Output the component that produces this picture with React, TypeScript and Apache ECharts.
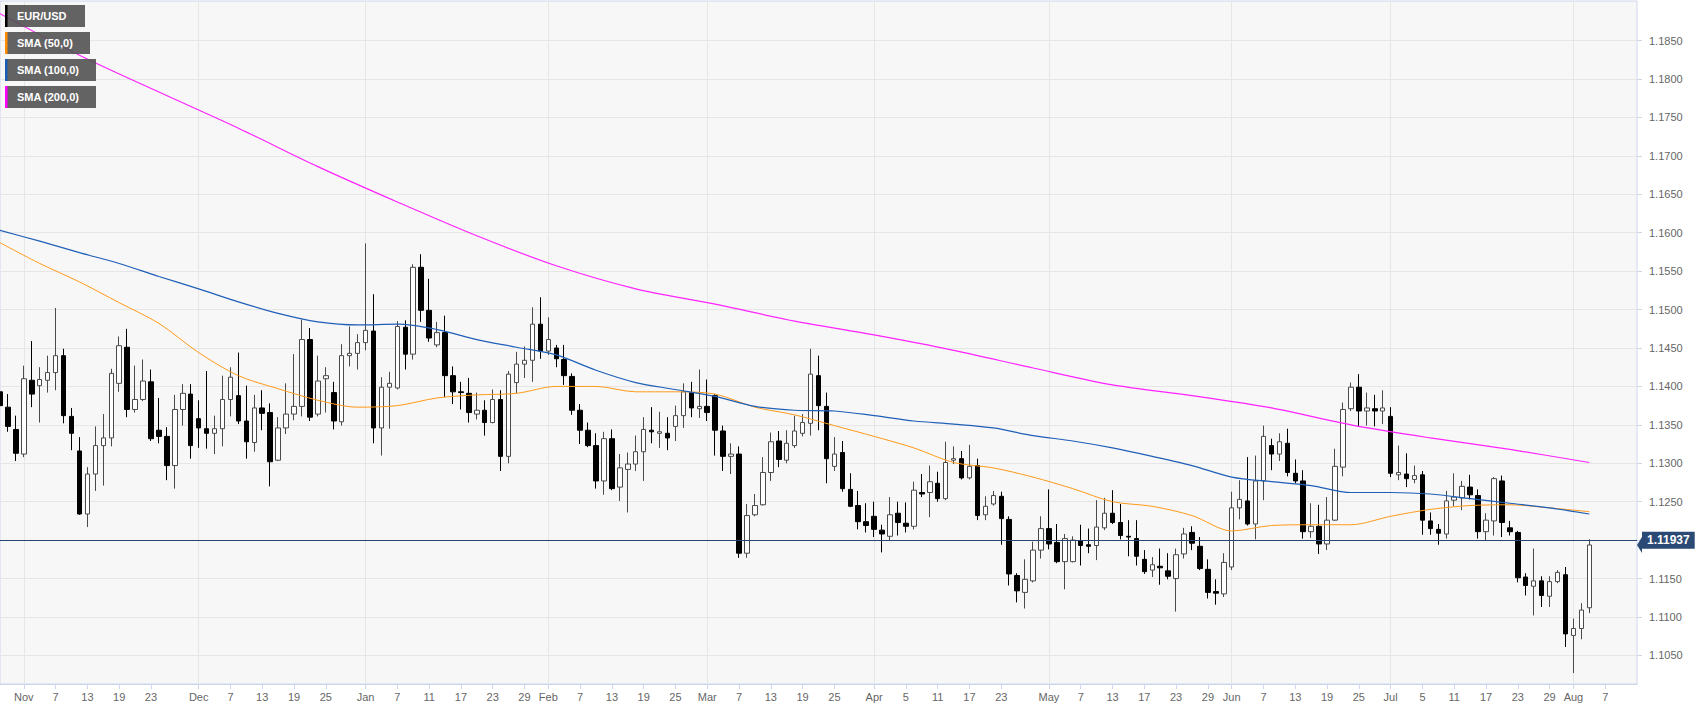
import React, { useEffect, useRef } from "react";
import * as echarts from "echarts";

// ---------- axis setup ----------
const START_DATE = "2018-10-29";
const CATEGORY_COUNT = 207; // weekdays from Oct 29 2018 to Aug 13 2019

const xTickLabels: [string, string][] = [
  ["2018-11-01", "Nov"], ["2018-11-07", "7"], ["2018-11-13", "13"], ["2018-11-19", "19"], ["2018-11-23", "23"],
  ["2018-12-03", "Dec"], ["2018-12-07", "7"], ["2018-12-13", "13"], ["2018-12-19", "19"], ["2018-12-25", "25"],
  ["2019-01-01", "Jan"], ["2019-01-07", "7"], ["2019-01-11", "11"], ["2019-01-17", "17"], ["2019-01-23", "23"], ["2019-01-29", "29"],
  ["2019-02-01", "Feb"], ["2019-02-07", "7"], ["2019-02-13", "13"], ["2019-02-19", "19"], ["2019-02-25", "25"],
  ["2019-03-01", "Mar"], ["2019-03-07", "7"], ["2019-03-13", "13"], ["2019-03-19", "19"], ["2019-03-25", "25"],
  ["2019-04-01", "Apr"], ["2019-04-05", "5"], ["2019-04-11", "11"], ["2019-04-17", "17"], ["2019-04-23", "23"],
  ["2019-05-01", "May"], ["2019-05-07", "7"], ["2019-05-13", "13"], ["2019-05-17", "17"], ["2019-05-23", "23"], ["2019-05-29", "29"],
  ["2019-06-03", "Jun"], ["2019-06-07", "7"], ["2019-06-13", "13"], ["2019-06-19", "19"], ["2019-06-25", "25"],
  ["2019-07-01", "Jul"], ["2019-07-05", "5"], ["2019-07-11", "11"], ["2019-07-17", "17"], ["2019-07-23", "23"], ["2019-07-29", "29"],
  ["2019-08-01", "Aug"], ["2019-08-07", "7"],
];

const yTicks = [1.105, 1.11, 1.115, 1.12, 1.125, 1.13, 1.135, 1.14, 1.145, 1.15, 1.155, 1.16, 1.165, 1.17, 1.175, 1.18, 1.185];
const Y_MIN = 1.10128;
const Y_MAX = 1.19015;
const LAST_PRICE = 1.11937;

// ---------- data: daily EUR/USD [open, close, low, high], one per weekday from Oct 29 2018 ----------
const candles: number[][] = [
  [1.1393, 1.1375, 1.1361, 1.1417], [1.1373, 1.1348, 1.1341, 1.1390], [1.1344, 1.1313, 1.1303, 1.1362], [1.1312, 1.1410, 1.1308, 1.1427],
  [1.1408, 1.1390, 1.1373, 1.1459], [1.1401, 1.1409, 1.1353, 1.1425], [1.1408, 1.1418, 1.1392, 1.1440], [1.1418, 1.1440, 1.1395, 1.1502],
  [1.1440, 1.1362, 1.1352, 1.1449], [1.1361, 1.1339, 1.1317, 1.1372], [1.1316, 1.1234, 1.1233, 1.1334], [1.1234, 1.1286, 1.1217, 1.1295],
  [1.1286, 1.1323, 1.1264, 1.1348], [1.1323, 1.1333, 1.1271, 1.1364], [1.1333, 1.1417, 1.1322, 1.1423], [1.1404, 1.1453, 1.1393, 1.1465],
  [1.1451, 1.1370, 1.1360, 1.1475], [1.1370, 1.1383, 1.1366, 1.1427], [1.1383, 1.1407, 1.1381, 1.1435], [1.1406, 1.1332, 1.1329, 1.1422],
  [1.1343, 1.1335, 1.1326, 1.1385], [1.1335, 1.1297, 1.1278, 1.1347], [1.1297, 1.1370, 1.1267, 1.1389], [1.1370, 1.1391, 1.1349, 1.1403],
  [1.1390, 1.1323, 1.1306, 1.1403], [1.1358, 1.1346, 1.1320, 1.1382], [1.1345, 1.1339, 1.1319, 1.1420], [1.1339, 1.1345, 1.1312, 1.1362],
  [1.1345, 1.1383, 1.1322, 1.1414], [1.1383, 1.1412, 1.1361, 1.1425], [1.1388, 1.1355, 1.1351, 1.1444], [1.1355, 1.1328, 1.1306, 1.1401],
  [1.1327, 1.1372, 1.1315, 1.1389], [1.1372, 1.1365, 1.1343, 1.1395], [1.1366, 1.1302, 1.1270, 1.1378], [1.1304, 1.1346, 1.1303, 1.1360],
  [1.1346, 1.1364, 1.1338, 1.1404], [1.1364, 1.1374, 1.1356, 1.1442], [1.1374, 1.1461, 1.1361, 1.1487], [1.1461, 1.1360, 1.1355, 1.1476],
  [1.1364, 1.1407, 1.1361, 1.1440], [1.1410, 1.1414, 1.1366, 1.1425], [1.1392, 1.1355, 1.1344, 1.1406], [1.1354, 1.1440, 1.1349, 1.1455],
  [1.1440, 1.1443, 1.1426, 1.1478], [1.1443, 1.1457, 1.1422, 1.1468], [1.1457, 1.1473, 1.1447, 1.1586], [1.1472, 1.1346, 1.1326, 1.1520],
  [1.1346, 1.1399, 1.1310, 1.1412], [1.1399, 1.1404, 1.1345, 1.1419], [1.1398, 1.1478, 1.1396, 1.1485], [1.1477, 1.1442, 1.1422, 1.1486],
  [1.1442, 1.1555, 1.1435, 1.1559], [1.1555, 1.1499, 1.1484, 1.1572], [1.1499, 1.1463, 1.1458, 1.1540], [1.1454, 1.1470, 1.1451, 1.1484],
  [1.1470, 1.1414, 1.1386, 1.1492], [1.1414, 1.1393, 1.1377, 1.1426], [1.1393, 1.1392, 1.1370, 1.1406], [1.1391, 1.1366, 1.1353, 1.1411],
  [1.1364, 1.1369, 1.1357, 1.1392], [1.1369, 1.1353, 1.1336, 1.1382], [1.1353, 1.1383, 1.1352, 1.1396], [1.1383, 1.1309, 1.1290, 1.1395],
  [1.1309, 1.1416, 1.1300, 1.1420], [1.1405, 1.1429, 1.1391, 1.1445], [1.1429, 1.1434, 1.1411, 1.1452], [1.1434, 1.1481, 1.1406, 1.1503],
  [1.1481, 1.1446, 1.1436, 1.1516], [1.1446, 1.1461, 1.1441, 1.1490], [1.1450, 1.1436, 1.1425, 1.1454], [1.1435, 1.1414, 1.1402, 1.1454],
  [1.1413, 1.1369, 1.1363, 1.1417], [1.1369, 1.1343, 1.1325, 1.1377], [1.1343, 1.1323, 1.1321, 1.1353], [1.1323, 1.1277, 1.1267, 1.1339],
  [1.1277, 1.1332, 1.1259, 1.1341], [1.1332, 1.1267, 1.1265, 1.1344], [1.1269, 1.1294, 1.1251, 1.1312], [1.1292, 1.1299, 1.1236, 1.1314],
  [1.1299, 1.1315, 1.1290, 1.1336], [1.1315, 1.1344, 1.1277, 1.1360], [1.1343, 1.1341, 1.1326, 1.1373], [1.1339, 1.1341, 1.1320, 1.1367],
  [1.1339, 1.1333, 1.1317, 1.1360], [1.1348, 1.1362, 1.1329, 1.1375], [1.1362, 1.1393, 1.1346, 1.1404], [1.1392, 1.1372, 1.1360, 1.1406],
  [1.1371, 1.1374, 1.1359, 1.1422], [1.1374, 1.1366, 1.1355, 1.1409], [1.1388, 1.1343, 1.1310, 1.1390], [1.1342, 1.1309, 1.1290, 1.1349],
  [1.1309, 1.1312, 1.1286, 1.1326], [1.1312, 1.1183, 1.1177, 1.1322], [1.1183, 1.1232, 1.1177, 1.1247], [1.1233, 1.1245, 1.1231, 1.1260],
  [1.1246, 1.1288, 1.1245, 1.1308], [1.1288, 1.1328, 1.1277, 1.1340], [1.1329, 1.1305, 1.1295, 1.1342], [1.1304, 1.1326, 1.1300, 1.1343],
  [1.1323, 1.1342, 1.1320, 1.1362], [1.1339, 1.1353, 1.1335, 1.1364], [1.1352, 1.1416, 1.1336, 1.1449], [1.1414, 1.1375, 1.1343, 1.1440],
  [1.1374, 1.1306, 1.1274, 1.1392], [1.1296, 1.1312, 1.1290, 1.1334], [1.1314, 1.1267, 1.1263, 1.1329], [1.1266, 1.1244, 1.1243, 1.1287],
  [1.1245, 1.1224, 1.1214, 1.1264], [1.1224, 1.1219, 1.1210, 1.1248], [1.1231, 1.1214, 1.1204, 1.1250], [1.1213, 1.1208, 1.1184, 1.1220],
  [1.1205, 1.1233, 1.1199, 1.1256], [1.1235, 1.1223, 1.1206, 1.1250], [1.1222, 1.1218, 1.1210, 1.1249], [1.1218, 1.1265, 1.1214, 1.1276],
  [1.1262, 1.1260, 1.1256, 1.1286], [1.1262, 1.1276, 1.1230, 1.1297], [1.1274, 1.1254, 1.1250, 1.1289], [1.1254, 1.1301, 1.1252, 1.1328],
  [1.1304, 1.1306, 1.1299, 1.1322], [1.1306, 1.1281, 1.1279, 1.1316], [1.1281, 1.1296, 1.1279, 1.1324], [1.1297, 1.1232, 1.1226, 1.1306],
  [1.1233, 1.1244, 1.1226, 1.1257], [1.1247, 1.1258, 1.1245, 1.1264], [1.1257, 1.1228, 1.1194, 1.1263], [1.1227, 1.1156, 1.1141, 1.1231],
  [1.1154, 1.1134, 1.1119, 1.1157], [1.1132, 1.1149, 1.1111, 1.1175], [1.1147, 1.1187, 1.1145, 1.1198], [1.1187, 1.1215, 1.1176, 1.1231],
  [1.1215, 1.1195, 1.1188, 1.1266], [1.1197, 1.1172, 1.1170, 1.1221], [1.1172, 1.1202, 1.1136, 1.1208], [1.1172, 1.1200, 1.1171, 1.1205],
  [1.1199, 1.1193, 1.1167, 1.1220], [1.1194, 1.1192, 1.1183, 1.1215], [1.1193, 1.1217, 1.1174, 1.1252], [1.1216, 1.1235, 1.1213, 1.1255],
  [1.1235, 1.1223, 1.1221, 1.1265], [1.1223, 1.1206, 1.1201, 1.1247], [1.1205, 1.1204, 1.1179, 1.1226], [1.1202, 1.1179, 1.1167, 1.1226],
  [1.1175, 1.1159, 1.1156, 1.1187], [1.1161, 1.1168, 1.1152, 1.1178], [1.1166, 1.1164, 1.1142, 1.1189], [1.1160, 1.1153, 1.1149, 1.1183],
  [1.1150, 1.1181, 1.1107, 1.1189], [1.1182, 1.1208, 1.1176, 1.1216], [1.1210, 1.1196, 1.1187, 1.1218], [1.1192, 1.1163, 1.1161, 1.1204],
  [1.1162, 1.1132, 1.1124, 1.1175], [1.1133, 1.1131, 1.1116, 1.1149], [1.1130, 1.1171, 1.1126, 1.1183], [1.1165, 1.1242, 1.1161, 1.1263],
  [1.1242, 1.1253, 1.1227, 1.1278], [1.1251, 1.1221, 1.1219, 1.1308], [1.1221, 1.1277, 1.1201, 1.1310], [1.1277, 1.1335, 1.1252, 1.1349],
  [1.1323, 1.1312, 1.1291, 1.1332], [1.1312, 1.1328, 1.1303, 1.1339], [1.1326, 1.1288, 1.1283, 1.1345], [1.1287, 1.1277, 1.1274, 1.1305],
  [1.1277, 1.1211, 1.1202, 1.1291], [1.1211, 1.1218, 1.1203, 1.1248], [1.1218, 1.1195, 1.1182, 1.1246], [1.1195, 1.1226, 1.1187, 1.1256],
  [1.1226, 1.1296, 1.1225, 1.1319], [1.1295, 1.1370, 1.1283, 1.1379], [1.1371, 1.1399, 1.1368, 1.1405], [1.1399, 1.1368, 1.1348, 1.1416],
  [1.1368, 1.1372, 1.1349, 1.1392], [1.1371, 1.1368, 1.1348, 1.1389], [1.1368, 1.1372, 1.1351, 1.1395], [1.1361, 1.1287, 1.1282, 1.1373],
  [1.1285, 1.1288, 1.1278, 1.1323], [1.1286, 1.1280, 1.1269, 1.1313], [1.1279, 1.1284, 1.1274, 1.1297], [1.1285, 1.1226, 1.1207, 1.1290],
  [1.1225, 1.1215, 1.1207, 1.1236], [1.1214, 1.1209, 1.1194, 1.1221], [1.1208, 1.1251, 1.1202, 1.1264], [1.1252, 1.1256, 1.1244, 1.1287],
  [1.1255, 1.1270, 1.1239, 1.1277], [1.1269, 1.1259, 1.1253, 1.1285], [1.1258, 1.1211, 1.1202, 1.1266], [1.1211, 1.1226, 1.1200, 1.1235],
  [1.1225, 1.1280, 1.1206, 1.1282], [1.1277, 1.1223, 1.1204, 1.1284], [1.1216, 1.1211, 1.1206, 1.1225], [1.1210, 1.1151, 1.1145, 1.1212],
  [1.1152, 1.1141, 1.1128, 1.1157], [1.1140, 1.1147, 1.1102, 1.1189], [1.1147, 1.1128, 1.1113, 1.1153], [1.1127, 1.1146, 1.1113, 1.1153],
  [1.1146, 1.1158, 1.1144, 1.1161], [1.1155, 1.1078, 1.1061, 1.1165], [1.1076, 1.1085, 1.1027, 1.1098], [1.1085, 1.1109, 1.1071, 1.1118],
  [1.1112, 1.11937, 1.1105, 1.1201],
];

// Moving averages, one value every SMA_STEP trading days from Oct 29 2018
const SMA_STEP = 5;
const sma50 = [
  1.1587, 1.1560, 1.1536, 1.1509, 1.1482, 1.1444, 1.1414, 1.1397, 1.1382, 1.1373,
  1.1375, 1.1385, 1.1389, 1.1391, 1.1400, 1.1400, 1.1393, 1.1393, 1.1390, 1.1373,
  1.1363, 1.1349, 1.1335, 1.1320, 1.1301, 1.1294, 1.1282, 1.1267, 1.1250, 1.1244,
  1.1232, 1.1212, 1.1219, 1.1220, 1.1220, 1.1231, 1.1240, 1.1245, 1.1246, 1.1242,
  1.1237,
];
const sma100 = [
  1.1603, 1.1589, 1.1574, 1.1560, 1.1543, 1.1527, 1.1510, 1.1495, 1.1484, 1.1480,
  1.1481, 1.1474, 1.1461, 1.1451, 1.1441, 1.1421, 1.1405, 1.1396, 1.1387, 1.1374,
  1.1369, 1.1368, 1.1362, 1.1355, 1.1351, 1.1346, 1.1336, 1.1329, 1.1320, 1.1309,
  1.1297, 1.1282, 1.1276, 1.1271, 1.1262, 1.1262, 1.1260, 1.1254, 1.1248, 1.1242,
  1.1234,
];
const SMA200_STEP = 10;
const sma200 = [
  1.1885, 1.1831, 1.1783, 1.1736, 1.1686, 1.1640, 1.1596, 1.1557, 1.1527, 1.1507,
  1.1485, 1.1467, 1.1447, 1.1424, 1.1402, 1.1388, 1.1372, 1.1350, 1.1333, 1.1318,
  1.1301,
];

const legendItems: [string, string][] = [
  ["EUR/USD", "#000000"],
  ["SMA (50,0)", "#ff8c00"],
  ["SMA (100,0)", "#1c5cb4"],
  ["SMA (200,0)", "#ff00ff"],
];

const FONT = "Arial, 'Liberation Sans', sans-serif";

function buildCategories(): string[] {
  const out: string[] = [];
  const [y, m, d] = START_DATE.split("-").map(Number);
  let t = Date.UTC(y, m - 1, d);
  while (out.length < CATEGORY_COUNT) {
    const dt = new Date(t);
    const wd = dt.getUTCDay();
    if (wd !== 0 && wd !== 6) out.push(dt.toISOString().slice(0, 10));
    t += 86400000;
  }
  return out;
}

export default function App() {
  const ref = useRef<HTMLDivElement>(null);

  useEffect(() => {
    document.body.style.margin = "0";
    if (!ref.current) return;
    const chart = echarts.init(ref.current, undefined, { renderer: "svg" });
    const categories = buildCategories();
    const labelMap = new Map<string, string>(xTickLabels);
    const monthStarts = new Set(xTickLabels.filter(([, t]) => isNaN(Number(t))).map(([d]) => d));
    const smaSeries = (vals: number[], step: number) => vals.map((v, k) => [categories[k * step], v]);

    const legendGraphics: any[] = [];
    const widths = [80, 85, 91, 91];
    legendItems.forEach(([name, color], k) => {
      const top = 5 + k * 27;
      legendGraphics.push({
        type: "rect", left: 5, top, z: 100,
        shape: { width: widths[k], height: 22 },
        style: { fill: "rgba(82,82,82,0.9)" },
      });
      legendGraphics.push({
        type: "rect", left: 5, top, z: 101,
        shape: { width: 2.5, height: 22 },
        style: { fill: color },
      });
      legendGraphics.push({
        type: "text", left: 17, top: top + 5, z: 102,
        style: { text: name, fill: "#ffffff", font: `bold 11px ${FONT}` },
      });
    });

    chart.setOption({
      animation: false,
      backgroundColor: "#ffffff",
      textStyle: { fontFamily: FONT },
      grid: {
        left: 0, top: 1, width: 1637, height: 683,
        show: true, backgroundColor: "#f7f7f7", borderColor: "#ccd6eb", borderWidth: 1,
      },
      xAxis: {
        type: "category",
        data: categories,
        boundaryGap: false,
        axisLine: { lineStyle: { color: "#ccd6eb" } },
        axisTick: { show: true, interval: (_i: number, v: string) => labelMap.has(v), length: 5, lineStyle: { color: "#ccd6eb" } },
        axisLabel: {
          interval: (_i: number, v: string) => labelMap.has(v),
          formatter: (v: string) => labelMap.get(v) ?? "",
          color: "#666666", fontSize: 11, margin: 7, fontFamily: FONT,
        },
        splitLine: { show: true, interval: (_i: number, v: string) => monthStarts.has(v), lineStyle: { color: "#e6e6e6" } },
      },
      yAxis: {
        type: "value",
        position: "right",
        min: Y_MIN,
        max: Y_MAX,
        axisLine: { show: false },
        axisTick: { show: true, customValues: yTicks, length: 5, lineStyle: { color: "#ccd6eb" } },
        axisLabel: {
          customValues: yTicks,
          formatter: (v: number) => v.toFixed(4),
          color: "#666666", fontSize: 11, margin: 12, fontFamily: FONT,
        },
        splitLine: { show: true, lineStyle: { color: "#e6e6e6" } },
      },
      graphic: legendGraphics,
      series: [
        {
          name: "EUR/USD",
          type: "candlestick",
          data: candles,
          barWidth: 5,
          clip: true,
          itemStyle: {
            color: "#ffffff", color0: "#000000",
            borderColor: "#4a4a4a", borderColor0: "#000000", borderWidth: 1,
          },
          markLine: {
            silent: true,
            symbol: ["none", "none"],
            data: [{ yAxis: LAST_PRICE }],
            lineStyle: { color: "#27466e", width: 1, type: "solid" },
            label: {
              show: true, position: "end", distance: 5,
              formatter: () => LAST_PRICE.toFixed(5),
              color: "#ffffff", fontWeight: "bold", fontSize: 12, fontFamily: FONT,
              backgroundColor: "#2a4a75", padding: [3, 5, 2, 5],
            },
          },
        },
        {
          name: "SMA (50,0)", type: "line", data: smaSeries(sma50, SMA_STEP), smooth: 0.3,
          symbol: "none", lineStyle: { color: "#ff9a1a", width: 1 }, z: 3,
        },
        {
          name: "SMA (100,0)", type: "line", data: smaSeries(sma100, SMA_STEP), smooth: 0.3,
          symbol: "none", lineStyle: { color: "#1f5fb8", width: 1.2 }, z: 3,
        },
        {
          name: "SMA (200,0)", type: "line", data: smaSeries(sma200, SMA200_STEP), smooth: 0.3,
          symbol: "none", lineStyle: { color: "#ff22ff", width: 1.2 }, z: 3,
        },
      ],
    });

    const py = chart.convertToPixel({ yAxisIndex: 0 }, LAST_PRICE) as number;
    chart.setOption({
      graphic: [
        ...legendGraphics,
        {
          type: "polygon", z: 100,
          shape: { points: [[1637, py], [1642, py - 8], [1642, py + 8]] },
          style: { fill: "#2a4a75" },
        },
      ],
    });

    return () => chart.dispose();
  }, []);

  return <div ref={ref} style={{ position: "absolute", left: 0, top: 0, width: 1707, height: 712 }} />;
}
